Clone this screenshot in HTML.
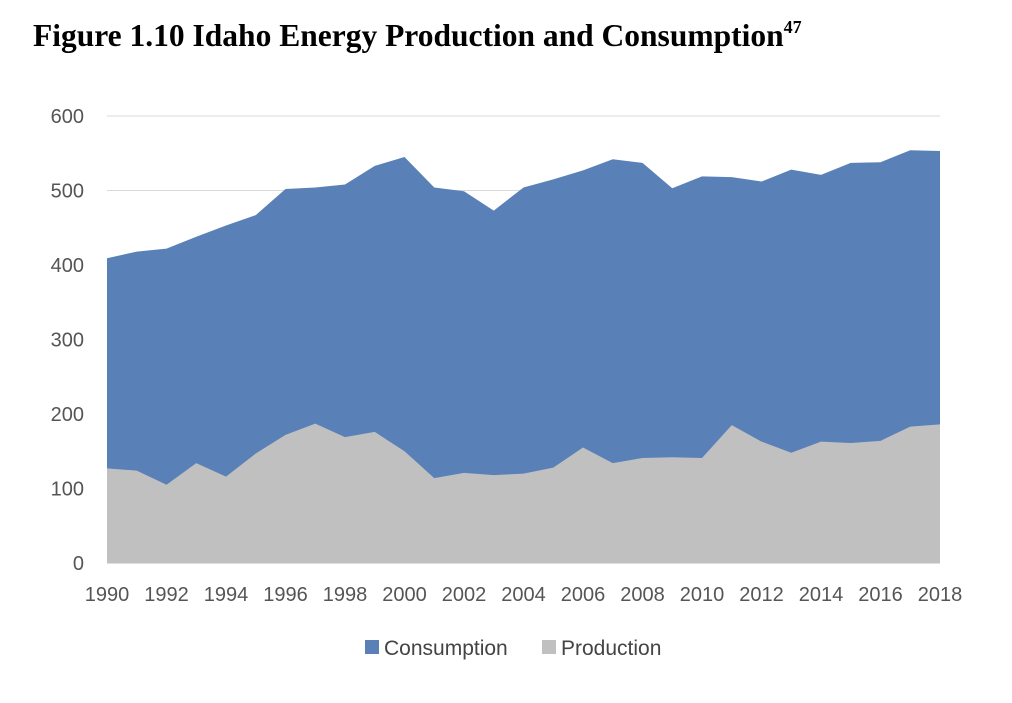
<!DOCTYPE html>
<html><head><meta charset="utf-8"><style>
body{margin:0;background:#fff;width:1012px;height:698px;overflow:hidden}
svg text{font-family:"Liberation Sans",sans-serif}
</style></head><body>
<svg width="1012" height="698">
<text x="33" y="46" style="font-family:'Liberation Serif',serif;font-weight:bold;font-size:31.5px">Figure 1.10 Idaho Energy Production and Consumption<tspan font-size="18" dy="-13">47</tspan></text>
<g id="grid"></g><g id="areas"></g><g id="axes"></g>
<g>
<rect x="365" y="640" width="14" height="14" fill="#5a80b8"/>
<text x="384" y="655" font-size="21" fill="#444">Consumption</text>
<rect x="542" y="640" width="14" height="14" fill="#c0c0c0"/>
<text x="561" y="655" font-size="21" fill="#444">Production</text>
</g>
</svg>
<script>
const years=[1990,1991,1992,1993,1994,1995,1996,1997,1998,1999,2000,2001,2002,2003,2004,2005,2006,2007,2008,2009,2010,2011,2012,2013,2014,2015,2016,2017,2018];
const consumption=[409,418,422,438,453,467,502,504,508,533,545,504,499,473,504,515,527,542,537,503,519,518,512,528,521,537,538,554,553];
const production=[127,124,105,134,116,147,172,187,169,176,150,114,121,118,120,128,155,134,141,142,141,185,163,148,163,161,164,183,186];
const yTicks=[0,100,200,300,400,500,600];
const x0=107,x1=940,yb=563,yt=116;
const X=y=>x0+(y-years[0])/(years[years.length-1]-years[0])*(x1-x0);
const Y=v=>yb-v/600*(yb-yt);
const NS="http://www.w3.org/2000/svg";
function mk(t,a,p){const e=document.createElementNS(NS,t);for(const k in a)e.setAttribute(k,a[k]);p.appendChild(e);return e;}
const grid=document.getElementById('grid'),areas=document.getElementById('areas'),axes=document.getElementById('axes');
yTicks.forEach(v=>{
 const l=mk('line',{x1:x0,x2:x1,y1:Y(v),y2:Y(v),stroke:'#d9d9d9'},grid);
 
 
 const t=mk('text',{x:84,y:Y(v)+7,'text-anchor':'end','font-size':20,fill:'#555'},axes);
 t.textContent=v;
 
 
});
function area(vals,fill,name){
 let d='M'+X(years[0])+','+yb;
 years.forEach((yr,i)=>d+=' L'+X(yr)+','+Y(vals[i]));
 d+=' L'+X(years[years.length-1])+','+yb+' Z';
 const p=mk('path',{d:d,fill:fill},areas);
 
 
}
area(consumption,'#5a80b8','consumption-area');
area(production,'#c0c0c0','production-area');
const ax=mk('line',{x1:x0,x2:x1,y1:yb,y2:yb,stroke:'#bfbfbf'},axes);


years.forEach((yr,i)=>{
 if(i%2)return;
 const t=mk('text',{x:X(yr),y:601,'text-anchor':'middle','font-size':20,fill:'#555'},axes);
 t.textContent=yr;
 
 
});
</script>
</body></html>
